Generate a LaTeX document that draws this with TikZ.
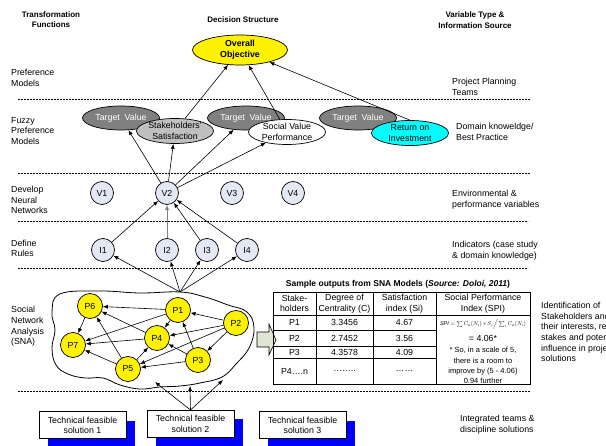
\documentclass[tikz,border=0pt]{standalone}
\usepackage{fontspec}
\setmainfont{Liberation Sans}
\usepackage{amsmath}
\usepackage{graphicx}
\usetikzlibrary{arrows.meta,shapes.geometric,shadows}

\definecolor{tvgray}{RGB}{128,128,128}
\definecolor{ssgray}{RGB}{192,192,192}
\definecolor{nodeblue}{RGB}{228,232,244}
\definecolor{bigarrow}{RGB}{224,228,210}
\definecolor{roicyan}{RGB}{0,255,255}

\begin{document}
\begin{tikzpicture}[x=1pt,y=-1pt,
  every node/.style={font=\fontsize{8.8}{10.6}\selectfont},
  arr/.style={-{Latex[length=5pt,width=4pt]},line width=0.6pt},
  sep/.style={dash pattern=on 2pt off 1pt,line width=0.6pt},
  oval/.style={ellipse,draw,line width=0.7pt,minimum width=77pt,minimum height=25pt,inner sep=0pt,align=center},
  tv/.style={oval,fill=tvgray,text=white,minimum height=24pt},
  var/.style={circle,draw,line width=0.7pt,fill=nodeblue,minimum size=23pt,inner sep=0pt},
  pnode/.style={circle,draw,line width=0.7pt,fill=yellow,minimum size=25pt,inner sep=0pt},
  techbox/.style={draw,line width=1pt,fill=white,minimum width=87pt,minimum height=27pt,align=center,inner sep=0pt,
    drop shadow={opacity=1,fill=blue,shadow xshift=9pt,shadow yshift=-9pt}},
  lbl/.style={align=left,anchor=west,inner sep=0pt},
  head/.style={align=center,inner sep=0pt,font=\fontsize{8}{10.5}\selectfont\bfseries}]
\useasboundingbox (0,0) rectangle (606,446);

% column heads
\node[head] (hleft) at (51,19.5) {Transformation\\Functions};
\node[head] (hmid) at (243,20) {Decision Structure};
\node[head] (hright) at (475,20) {Variable Type \&\\Information Source};

% layer labels
\node[lbl] (l1) at (11,78) {Preference\\Models};
\node[lbl] (l2) at (11,131) {Fuzzy\\Preference\\Models};
\node[lbl] (l3) at (11,200) {Develop\\Neural\\Networks};
\node[lbl] (l4) at (11,248.5) {Define\\Rules};
\node[lbl] (l5) at (11,326.5) {Social\\Network\\Analysis\\(SNA)};

\node[lbl] (r1) at (452,87) {Project Planning\\Teams};
\node[lbl] (r2) at (456,132) {Domain knoweldge/\\Best Practice};
\node[lbl] (r3) at (452,200) {Environmental \&\\performance variables};
\node[lbl] (r4) at (452,250.5) {Indicators (case study\\\& domain knowledge)};
\node[lbl] (r5) at (541,332) {Identification of\\Stakeholders and\\their interests, relative\\stakes and potential\\influence in project\\solutions};
\node[lbl] (r6) at (460,424.5) {Integrated teams \&\\discipline solutions};

\draw[sep] (18,99) -- (530,99);
\draw[sep] (18,173) -- (530,173);
\draw[sep] (18,221) -- (528,221);
\draw[sep] (18,268) -- (528,268);
\draw[sep] (18,391) -- (530,391);

% decision structure
\node[oval,fill=yellow,minimum width=95pt,minimum height=30pt,font=\fontsize{8.8}{10.6}\selectfont\bfseries] (obj) at (240,50) {Overall\\Objective};
\node[tv] (tv1) at (121,118) {Target~~Value};
\node[oval,fill=ssgray] (ss) at (175,131) {Stakeholders'\\Satisfaction};
\node[tv] (tv2) at (246,118) {Target~~Value};
\node[oval,fill=white] (svp) at (287,132) {Social Value\\Performance};
\node[tv] (tv3) at (358,118) {Target~~Value};
\node[oval,fill=roicyan] (roi) at (410,133) {Return on\\Investment};

\foreach \n/\x in {1/102,2/167,3/232,4/293}
  \node[var] (v\n) at (\x,193) {V\n};
\foreach \n/\x in {1/103,2/167,3/207,4/247}
  \node[var] (i\n) at (\x,250) {I\n};

\draw[arr] (ss) -- (obj);
\draw[arr] (svp) -- (obj);
\draw[arr] (roi.north) -- (obj);
\draw[arr] (v2) -- (tv1);
\draw[arr] (v2) -- (ss);
\draw[arr] (v2) -- (tv2);
\draw[arr] (v2) -- (svp);
\draw[arr] (i1) -- (v2);
\draw[arr,gray] (i2) -- (v2);
\draw[arr] (i3) -- (v2);
\draw[arr] (i4) -- (v2);

% social network
\draw[line width=0.8pt] plot[smooth cycle,tension=0.7] coordinates {(60,294) (100,291) (140,293) (180,292) (205,297) (228,305) (247,312) (254,328) (249,348) (236,364) (222,377) (200,383) (180,386) (160,387) (140,389) (120,385) (103,378) (85,378) (68,374) (56,365) (52,348) (55,330) (52,312)};
\coordinate (snatop) at (180,292);
\coordinate (s1) at (155,382);
\coordinate (s2) at (190,386);
\coordinate (s3) at (223,380);

\node[pnode] (p6) at (90,306) {P6};
\node[pnode] (p1) at (178,310) {P1};
\node[pnode] (p2) at (236,323) {P2};
\node[pnode] (p7) at (73,345) {P7};
\node[pnode] (p4) at (157,338) {P4};
\node[pnode] (p3) at (198,360) {P3};
\node[pnode] (p5) at (128,369) {P5};

\draw[arr] (p1) -- (p6);
\draw[arr] (p1) -- (p7);
\draw[arr] (p1) -- (p4);
\draw[arr] (p2) -- (p1);
\draw[arr] (p2) -- (p4);
\draw[arr] (p2) -- (p3);
\draw[arr] (p2) -- (p5);
\draw[arr] (p3) -- (p1);
\draw[arr] (p3) -- (p4);
\draw[arr] (p3) -- (p5);
\draw[arr] (p4) -- (p6);
\draw[arr] (p4) -- (p7);
\draw[arr] (p5) -- (p6);
\draw[arr] (p5) -- (p7);
\draw[arr] (p5) -- (p4);
\draw[arr] (p6) -- (p7);

\foreach \n in {1,2,3,4}
  \draw[arr] (snatop) -- (i\n);

% technical solutions
\node[techbox] (ts1) at (82.5,425.5) {Technical feasible\\solution 1};
\node[techbox] (ts2) at (190.5,424) {Technical feasible\\solution 2};
\node[techbox] (ts3) at (302.5,425.5) {Technical feasible\\solution 3};
\draw[arr] (ts2.north) -- (s1);
\draw[arr] (ts2.north) -- (s2);
\draw[arr] (ts2.north) -- (s3);

% sample outputs
\draw[fill=bigarrow,line width=0.6pt] (257,332) -- (269,332) -- (269,324) -- (276,340) -- (269,355) -- (269,347) -- (257,347) -- cycle;
\node[font=\fontsize{8.5}{10}\selectfont\bfseries] (tabtitle) at (398,284) {Sample outputs from SNA Models (\textit{Source: Doloi, 2011})};
\draw[line width=0.7pt] (273,292) rectangle (530,384);
\draw[line width=0.7pt] (316,292) -- (316,384) (373,292) -- (373,384) (436,292) -- (436,384);
\draw[line width=0.7pt] (273,315) -- (530,315);
\draw[line width=0.7pt] (273,330) -- (436,330) (273,346) -- (436,346) (273,358) -- (436,358);
\node[align=center] (c11) at (294.5,303.5) {Stake-\\holders};
\node[align=center] (c12) at (344.5,303.5) {Degree of\\Centrality (C)};
\node[align=center] (c13) at (404.5,303.5) {Satisfaction\\index (Si)};
\node[align=center] (c14) at (483,303.5) {Social Performance\\Index (SPI)};
\node (c21) at (294.5,322.5) {P1};
\node (c22) at (344.5,322.5) {3.3456};
\node (c23) at (404.5,322.5) {4.67};
\node (c31) at (294.5,338) {P2};
\node (c32) at (344.5,338) {2.7452};
\node (c33) at (404.5,338) {3.56};
\node (c41) at (294.5,352) {P3};
\node (c42) at (344.5,352) {4.3578};
\node (c43) at (404.5,352) {4.09};
\node (c51) at (294.5,371) {P4….n};
\node (c52) at (344.5,371) {……..};
\node (c53) at (404.5,371) {……};
\node[inner sep=0pt] (spi) at (483,324) {\resizebox{86pt}{!}{$\mathit{SPI}=\sum C_a(N_i)*S_i\Big/\sum_i C_a(N_i)$}};
\node (spiv) at (483,338) {= 4.06*};
\node[align=center,font=\fontsize{7.5}{10.3}\selectfont] (spin) at (483,365.5) {* So, in a scale of 5,\\there is a room to\\improve by (5 - 4.06)\\0.94 further};
\end{tikzpicture}
\end{document}
